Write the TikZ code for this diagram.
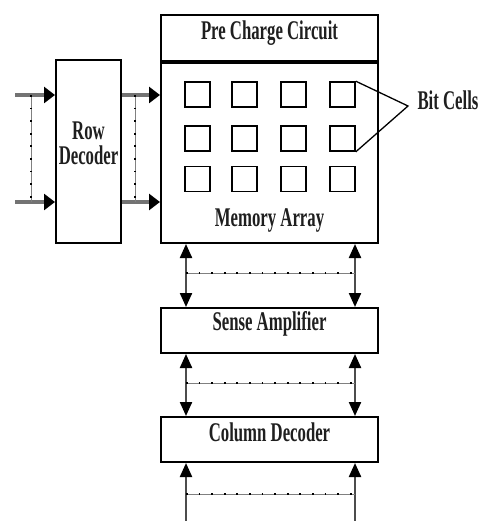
\documentclass[tikz,border=0pt]{standalone}
\usepackage{fontspec}
\setmainfont{Liberation Serif}
\newfontfamily\lblfont{Liberation Serif Bold}[FakeStretch=0.62]
\usetikzlibrary{arrows.meta}
\tikzset{
  blk/.style={draw=black,line width=2pt,fill=white,inner sep=0pt},
  cell/.style={draw=black,line width=1.6pt,minimum width=25pt,minimum height=25pt,inner sep=0pt},
  lbl/.style={font=\lblfont\fontsize{27}{25}\selectfont,text=black!88,anchor=base,inner sep=0pt},
  bus/.style={draw=black!55,line width=4pt},
  bitline/.style={draw=black!70,line width=2.2pt},
  htip/.style={-{Triangle[length=11pt,width=16pt,color=black]}},
  vtipboth/.style={{Triangle[length=14pt,width=12pt,color=black]}-{Triangle[length=14pt,width=12pt,color=black]}},
  vtipbw/.style={{Triangle[length=14pt,width=12pt,color=black]}-},
  dsh/.style={draw=black!50,line width=0.8pt,
    postaction={draw=black,line width=1.8pt,dash pattern=on 1.8pt off 10.8pt}},
}
\begin{document}
\begin{tikzpicture}[x=1pt,y=-1pt]
\useasboundingbox (0,0) rectangle (485,521);
% main blocks
\node[blk,minimum width=217pt,minimum height=46pt] (pre) at (269.5,38) {};
\node[blk,minimum width=217pt,minimum height=182pt] (mem) at (269.5,152) {};
\draw[line width=3.6pt] (pre.south west) -- (pre.south east);
\node[blk,minimum width=65pt,minimum height=183pt] (row) at (88.5,151.5) {};
\node[blk,minimum width=217pt,minimum height=45pt] (sense) at (269.5,330.5) {};
\node[blk,minimum width=217pt,minimum height=45pt] (col) at (269.5,439.5) {};
% labels (placed on their baselines)
\node[lbl] (tpre) at (269.5,40) {Pre Charge Circuit};
\node[lbl] (tmem) at (269.5,226) {Memory Array};
\node[lbl] (trow1) at (88.5,140) {Row};
\node[lbl] (trow2) at (88.5,165) {Decoder};
\node[lbl] (tsense) at (269.5,330) {Sense Amplifier};
\node[lbl] (tcol) at (269.5,441) {Column Decoder};
\node[lbl] (bitlbl) at (448,110) {Bit Cells};
% bit-cell grid
\foreach \c/\x in {1/197.5,2/244.5,3/293.5,4/342.5}{
  \foreach \r/\y in {1/94.5,2/138.5,3/179}{
    \node[cell] (c\r\c) at (\x,\y) {};
  }
}
\coordinate (apex) at (408,106);
\draw[line width=1.3pt] (c14.north east) -- (apex) -- (c24.south east);
% row address inputs
\coordinate (inA) at (15,95);
\coordinate (inB) at (15,202);
\draw[bus,htip] (inA) -- (inA -| row.west);
\draw[bus,htip] (inB) -- (inB -| row.west);
\draw[dsh] (31,95) -- (31,202);
% word lines into the array
\draw[bus,htip] (row.east |- inA) -- (mem.west |- inA);
\draw[bus,htip] (row.east |- inB) -- (mem.west |- inB);
\draw[dsh] (135,95) -- (135,202);
% bit lines
\coordinate (bl) at (186,0);
\coordinate (br) at (355,0);
\foreach \p in {bl,br}{
  \draw[bitline,vtipboth] (mem.south -| \p) -- (sense.north -| \p);
  \draw[bitline,vtipboth] (sense.south -| \p) -- (col.north -| \p);
}
\coordinate (outL) at (186,521);
\coordinate (outR) at (355,521);
\draw[bitline,vtipbw] (col.south -| outL) -- (outL);
\draw[bitline,vtipbw] (col.south -| outR) -- (outR);
\draw[dsh] (186,273) -- (355,273);
\draw[dsh] (186,383) -- (355,383);
\draw[dsh] (186,494) -- (355,494);
\end{tikzpicture}
\end{document}
